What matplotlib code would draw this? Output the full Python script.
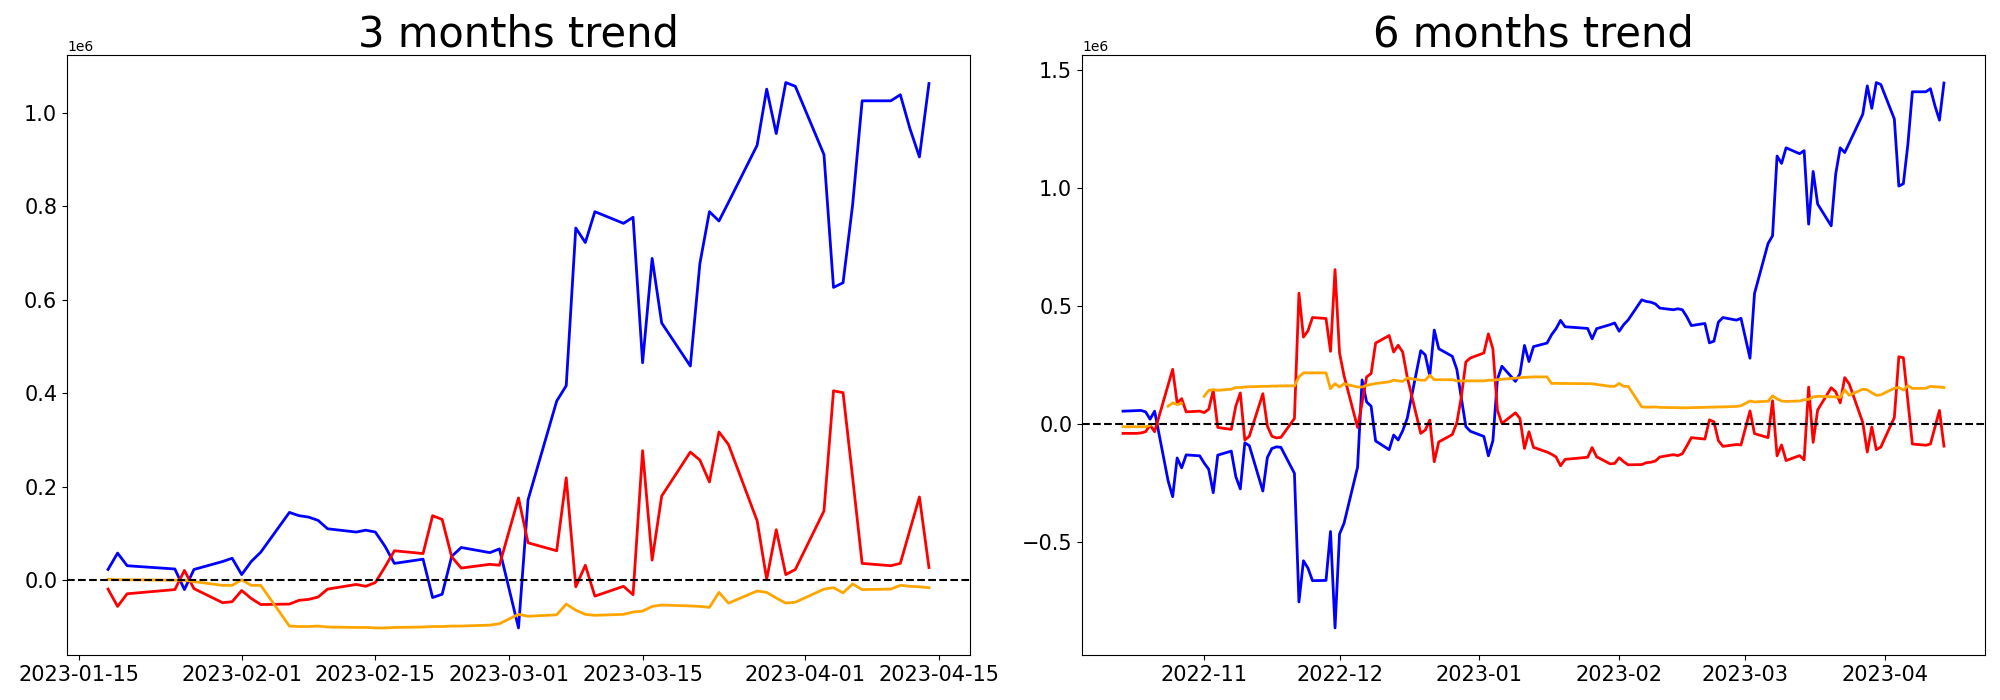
import numpy as np
import pandas as pd
import matplotlib
matplotlib.use("Agg")
import matplotlib.pyplot as plt

# values in millions
dates_3m = ["2023-01-18", "2023-01-19", "2023-01-20", "2023-01-25", "2023-01-26", "2023-01-27",
            "2023-01-30", "2023-01-31",
            "2023-02-01", "2023-02-02", "2023-02-03", "2023-02-06", "2023-02-07", "2023-02-08",
            "2023-02-09", "2023-02-10", "2023-02-13", "2023-02-14", "2023-02-15", "2023-02-16",
            "2023-02-17", "2023-02-20", "2023-02-21", "2023-02-22", "2023-02-23", "2023-02-24",
            "2023-02-27", "2023-02-28",
            "2023-03-02", "2023-03-03", "2023-03-06", "2023-03-07", "2023-03-08", "2023-03-09",
            "2023-03-10", "2023-03-13", "2023-03-14", "2023-03-15", "2023-03-16", "2023-03-17",
            "2023-03-20", "2023-03-21", "2023-03-22", "2023-03-23", "2023-03-24", "2023-03-27",
            "2023-03-28", "2023-03-29", "2023-03-30", "2023-03-31",
            "2023-04-03", "2023-04-04", "2023-04-05", "2023-04-06", "2023-04-07", "2023-04-10",
            "2023-04-11", "2023-04-12", "2023-04-13", "2023-04-14"]

blue_3m = [0.023, 0.058, 0.031, 0.024, -0.020, 0.023, 0.040, 0.047,
           0.012, 0.040, 0.060, 0.145, 0.138, 0.135, 0.128, 0.110, 0.103, 0.107, 0.103, 0.073,
           0.036, 0.045, -0.037, -0.030, 0.051, 0.070, 0.059, 0.067,
           -0.102, 0.172, 0.383, 0.416, 0.753, 0.722, 0.788, 0.763, 0.776, 0.465, 0.688, 0.550,
           0.458, 0.677, 0.788, 0.768, 0.808, 0.930, 1.050, 0.955, 1.064, 1.056,
           0.910, 0.626, 0.636, 0.802, 1.025, 1.025, 1.038, 0.966, 0.905, 1.062]

red_3m = [-0.019, -0.056, -0.029, -0.020, 0.021, -0.018, -0.048, -0.046,
          -0.022, -0.039, -0.052, -0.051, -0.043, -0.041, -0.036, -0.019, -0.009, -0.013, -0.005, 0.028,
          0.063, 0.057, 0.138, 0.130, 0.050, 0.026, 0.034, 0.032,
          0.176, 0.080, 0.063, 0.219, -0.014, 0.032, -0.034, -0.013, -0.031, 0.277, 0.043, 0.180,
          0.274, 0.257, 0.210, 0.317, 0.290, 0.127, 0.002, 0.108, 0.012, 0.023,
          0.148, 0.405, 0.401, 0.220, 0.036, 0.031, 0.036, 0.107, 0.178, 0.027]

orange_3m = [0.002, 0.001, 0.001, 0.000, 0.000, -0.003, -0.011, -0.011,
             0.001, -0.011, -0.011, -0.098, -0.099, -0.099, -0.098, -0.100, -0.101, -0.101, -0.102, -0.102,
             -0.101, -0.100, -0.099, -0.099, -0.098, -0.098, -0.096, -0.093,
             -0.073, -0.077, -0.074, -0.051, -0.064, -0.073, -0.075, -0.073, -0.068, -0.066, -0.056, -0.053,
             -0.055, -0.056, -0.058, -0.026, -0.049, -0.023, -0.026, -0.038, -0.049, -0.047,
             -0.019, -0.016, -0.027, -0.008, -0.020, -0.019, -0.011, -0.013, -0.014, -0.016]

dates_6m_early = ["2022-10-14", "2022-10-17", "2022-10-18", "2022-10-19", "2022-10-20", "2022-10-21",
                  "2022-10-24", "2022-10-25", "2022-10-26", "2022-10-27", "2022-10-28", "2022-10-31",
                  "2022-11-01", "2022-11-02", "2022-11-03", "2022-11-04", "2022-11-07", "2022-11-08",
                  "2022-11-09", "2022-11-10", "2022-11-11", "2022-11-14", "2022-11-15", "2022-11-16",
                  "2022-11-17", "2022-11-18", "2022-11-21", "2022-11-22", "2022-11-23", "2022-11-24",
                  "2022-11-25", "2022-11-28", "2022-11-29", "2022-11-30",
                  "2022-12-01", "2022-12-02", "2022-12-05", "2022-12-06", "2022-12-07", "2022-12-08",
                  "2022-12-09", "2022-12-12", "2022-12-13", "2022-12-14", "2022-12-15", "2022-12-16",
                  "2022-12-19", "2022-12-20", "2022-12-21", "2022-12-22", "2022-12-23", "2022-12-26",
                  "2022-12-27", "2022-12-28", "2022-12-29", "2022-12-30",
                  "2023-01-02", "2023-01-03", "2023-01-04", "2023-01-05", "2023-01-06", "2023-01-09",
                  "2023-01-10", "2023-01-11", "2023-01-12", "2023-01-13", "2023-01-16", "2023-01-17"]
dates_6m = dates_6m_early + dates_3m

blue_6m = [0.055, 0.057, 0.058, 0.052, 0.021, 0.055, -0.240, -0.307, -0.143, -0.185, -0.130, -0.134,
           -0.165, -0.191, -0.290, -0.131, -0.114, -0.222, -0.274, -0.079, -0.091, -0.283, -0.141, -0.103,
           -0.096, -0.098, -0.208, -0.752, -0.578, -0.609, -0.662, -0.661, -0.454, -0.862,
           -0.465, -0.419, -0.182, 0.187, 0.094, 0.076, -0.071, -0.108, -0.046, -0.067, -0.028, 0.024,
           0.311, 0.293, 0.205, 0.398, 0.319, 0.287, 0.232, 0.110, -0.010, -0.030,
           -0.052, -0.134, -0.070, 0.190, 0.245, 0.181, 0.213, 0.333, 0.265, 0.328, 0.343, 0.378,
           0.404, 0.439, 0.412, 0.405, 0.361, 0.404, 0.421, 0.428,
           0.393, 0.421, 0.441, 0.526, 0.519, 0.516, 0.509, 0.491, 0.484, 0.488, 0.484, 0.454,
           0.417, 0.426, 0.344, 0.351, 0.432, 0.451, 0.440, 0.448,
           0.279, 0.553, 0.764, 0.797, 1.134, 1.103, 1.169, 1.144, 1.157, 0.846, 1.069, 0.931,
           0.839, 1.058, 1.169, 1.149, 1.189, 1.311, 1.431, 1.336, 1.445, 1.437,
           1.291, 1.007, 1.017, 1.183, 1.406, 1.406, 1.419, 1.347, 1.286, 1.443]

red_6m = [-0.039, -0.039, -0.037, -0.032, -0.004, -0.032, 0.165, 0.232, 0.090, 0.108, 0.052, 0.055,
          0.049, 0.063, 0.143, -0.014, -0.022, 0.076, 0.132, -0.067, -0.051, 0.129, -0.008, -0.051,
          -0.058, -0.056, 0.024, 0.554, 0.368, 0.395, 0.451, 0.447, 0.308, 0.654,
          0.301, 0.205, -0.014, 0.090, 0.200, 0.214, 0.343, 0.375, 0.305, 0.334, 0.305, 0.200,
          -0.039, -0.025, 0.017, -0.159, -0.075, -0.044, 0.006, 0.115, 0.263, 0.280,
          0.301, 0.382, 0.319, 0.059, 0.003, 0.048, 0.024, -0.103, -0.032, -0.098, -0.118, -0.127,
          -0.139, -0.176, -0.149, -0.140, -0.099, -0.138, -0.168, -0.166,
          -0.142, -0.159, -0.172, -0.171, -0.163, -0.161, -0.156, -0.139, -0.129, -0.133, -0.125, -0.092,
          -0.057, -0.063, 0.018, 0.010, -0.070, -0.094, -0.086, -0.088,
          0.056, -0.040, -0.057, 0.099, -0.134, -0.088, -0.154, -0.133, -0.151, 0.157, -0.077, 0.060,
          0.154, 0.137, 0.090, 0.197, 0.170, 0.007, -0.118, -0.012, -0.108, -0.097,
          0.028, 0.285, 0.281, 0.100, -0.084, -0.089, -0.084, -0.013, 0.058, -0.093]

nan = np.nan
orange_6m = [-0.011, -0.011, -0.011, -0.011, -0.005, nan, 0.076, 0.090, 0.083, 0.088, nan, nan,
             0.118, 0.143, 0.146, 0.143, 0.148, 0.155, 0.155, 0.157, 0.158, 0.160, 0.160, 0.161,
             0.161, 0.162, 0.162, 0.200, 0.217, 0.217, 0.217, 0.217, 0.150, 0.171,
             0.157, 0.171, 0.157, 0.157, 0.164, 0.168, 0.172, 0.179, 0.186, 0.183, 0.181, 0.195,
             0.186, 0.186, 0.207, 0.188, 0.188, 0.188, 0.183, 0.183, 0.183, 0.183,
             0.183, 0.186, 0.186, 0.188, 0.190, 0.195, 0.197, 0.198, 0.199, 0.200, 0.200, 0.172,
             0.173, 0.172, 0.172, 0.171, 0.171, 0.168, 0.160, 0.160,
             0.172, 0.160, 0.160, 0.073, 0.072, 0.072, 0.073, 0.071, 0.070, 0.070, 0.069, 0.069,
             0.070, 0.071, 0.072, 0.072, 0.073, 0.073, 0.075, 0.078,
             0.098, 0.094, 0.097, 0.120, 0.107, 0.098, 0.096, 0.098, 0.103, 0.105, 0.115, 0.118,
             0.116, 0.115, 0.113, 0.145, 0.122, 0.148, 0.145, 0.133, 0.122, 0.124,
             0.152, 0.155, 0.144, 0.163, 0.151, 0.152, 0.160, 0.158, 0.157, 0.155]

panels = [("3 months trend", dates_3m, blue_3m, red_3m, orange_3m),
          ("6 months trend", dates_6m, blue_6m, red_6m, orange_6m)]

fig, axes = plt.subplots(1, 2, figsize=(20, 7), dpi=100)
fig.subplots_adjust(left=0.0335, right=0.9925, top=0.921, bottom=0.064, wspace=0.124)

for ax, (title, dates, blue, red, orange) in zip(axes, panels):
    x = pd.to_datetime(dates)
    ax.plot(x, np.array(blue) * 1e6, color="blue", lw=2)
    ax.plot(x, np.array(red) * 1e6, color="red", lw=2)
    ax.plot(x, np.array(orange) * 1e6, color="orange", lw=2)
    ax.axhline(0, color="black", ls="--", lw=1.5)
    ax.set_title(title, fontsize=30)
    ax.tick_params(labelsize=15)

fig.savefig("out.png")
